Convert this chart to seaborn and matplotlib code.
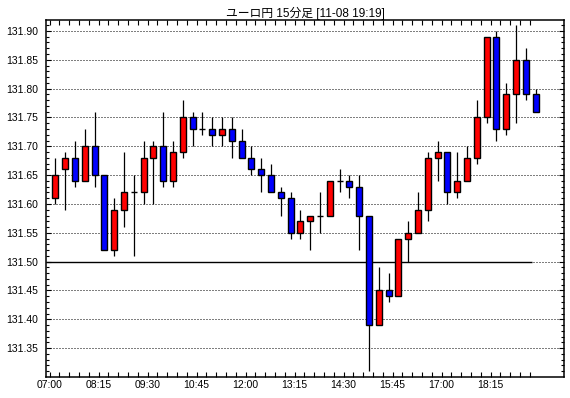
# EUR/JPY 15-minute candlestick chart

import numpy as np
import pandas as pd
import matplotlib
matplotlib.use("Agg")
import matplotlib.pyplot as plt
import seaborn as sns


# Chart values (one candle per 15 minutes from 07:00)
title = "ユーロ円 15分足 [11-08 19:19]"
tick_labels = ["07:00", "08:15", "09:30", "10:45", "12:00",
               "13:15", "14:30", "15:45", "17:00", "18:15"]

opens = [131.61, 131.66, 131.68, 131.64, 131.70, 131.65, 131.52, 131.59, 131.62, 131.62,
         131.68, 131.70, 131.64, 131.69, 131.75, 131.73, 131.73, 131.72, 131.73, 131.71,
         131.68, 131.66, 131.65, 131.62, 131.61, 131.55, 131.57, 131.58, 131.58, 131.64,
         131.64, 131.63, 131.58, 131.39, 131.45, 131.44, 131.54, 131.55, 131.59, 131.68,
         131.69, 131.62, 131.64, 131.68, 131.75, 131.89, 131.73, 131.79, 131.85, 131.79]
highs = [131.68, 131.69, 131.71, 131.73, 131.76, 131.65, 131.61, 131.69, 131.65, 131.71,
         131.71, 131.76, 131.71, 131.78, 131.76, 131.76, 131.75, 131.75, 131.75, 131.73,
         131.70, 131.68, 131.67, 131.63, 131.62, 131.59, 131.58, 131.62, 131.64, 131.66,
         131.65, 131.65, 131.58, 131.49, 131.48, 131.54, 131.57, 131.62, 131.69, 131.71,
         131.69, 131.69, 131.70, 131.78, 131.89, 131.90, 131.81, 131.91, 131.87, 131.80]
lows = [131.60, 131.59, 131.63, 131.64, 131.63, 131.52, 131.51, 131.56, 131.51, 131.60,
        131.60, 131.63, 131.63, 131.68, 131.70, 131.72, 131.70, 131.70, 131.68, 131.68,
        131.65, 131.62, 131.62, 131.58, 131.54, 131.54, 131.52, 131.55, 131.58, 131.62,
        131.61, 131.52, 131.31, 131.39, 131.43, 131.44, 131.50, 131.55, 131.57, 131.64,
        131.60, 131.61, 131.64, 131.67, 131.74, 131.71, 131.72, 131.74, 131.78, 131.76]
closes = [131.65, 131.68, 131.64, 131.70, 131.65, 131.52, 131.59, 131.62, 131.62, 131.68,
          131.70, 131.64, 131.69, 131.75, 131.73, 131.73, 131.72, 131.73, 131.71, 131.68,
          131.66, 131.65, 131.62, 131.61, 131.55, 131.57, 131.58, 131.58, 131.64, 131.64,
          131.63, 131.58, 131.39, 131.45, 131.44, 131.54, 131.55, 131.59, 131.68, 131.69,
          131.62, 131.64, 131.68, 131.75, 131.89, 131.73, 131.79, 131.85, 131.79, 131.76]
ref_level = 131.50


df = pd.DataFrame({"open": opens, "high": highs, "low": lows, "close": closes})
df["x"] = np.arange(len(df)) + 0.6
df["color"] = np.where(df["close"] >= df["open"], "#ff0000", "#0000ff")


sns.set_theme(style="ticks")
plt.rcParams["font.family"] = ["Liberation Sans", "Noto Sans CJK JP", "DejaVu Sans"]
plt.rcParams["text.color"] = "black"
plt.rcParams["xtick.color"] = "black"
plt.rcParams["ytick.color"] = "black"

fig = plt.figure(figsize=(5.7, 3.98), dpi=100)
ax = fig.add_axes([46 / 570, 21 / 398, 518 / 570, 357 / 398])

xmin, xmax = -0.36, 52.5

# dotted price grid and the solid reference line
yticks = np.round(np.arange(131.35, 131.901, 0.05), 2)
ax.hlines(yticks, 0, xmax, colors="black", linewidth=0.72,
          linestyles=(0, (1, 2)), zorder=1)
ax.hlines(ref_level, xmin, 49.2, colors="black", linewidth=1.0, zorder=2)

# wicks then bodies
ax.vlines(df["x"], df["low"], df["high"], colors="black", linewidth=0.9, zorder=3)
ax.bar(df["x"], df["close"] - df["open"], bottom=df["open"], width=0.6,
       color=df["color"], edgecolor="black", linewidth=1.0, zorder=4)

ax.set_xlim(xmin, xmax)
ax.set_ylim(131.30, 131.919)

ax.set_xticks(np.arange(0, 50, 5))
ax.set_xticklabels(tick_labels)
ax.set_xticks(np.arange(0, 50), minor=True)
ax.set_yticks(yticks)
ax.set_yticklabels([f"{v:.2f}" for v in yticks])
ax.set_yticks(np.round(np.arange(131.31, 131.915, 0.01), 2), minor=True)

ax.tick_params(axis="x", which="both", direction="in", top=True, bottom=True,
               length=3.6, width=0.8, color="black", labelsize=7.5, pad=2.5)
ax.tick_params(axis="y", which="major", direction="in", left=True, right=True,
               length=3.5, width=0.8, color="black", labelsize=7.5, pad=5.5)
ax.tick_params(axis="y", which="minor", direction="in", left=True, right=True,
               length=2, width=0.8, color="black")

for side in ["top", "right", "bottom", "left"]:
    ax.spines[side].set_visible(True)
    ax.spines[side].set_color("black")
    ax.spines[side].set_linewidth(1.1)

ax.set_title(title, fontsize=8.5, pad=2, color="black")
ax.set_xlabel("")
ax.set_ylabel("")

fig.savefig("out.png", dpi=100)
